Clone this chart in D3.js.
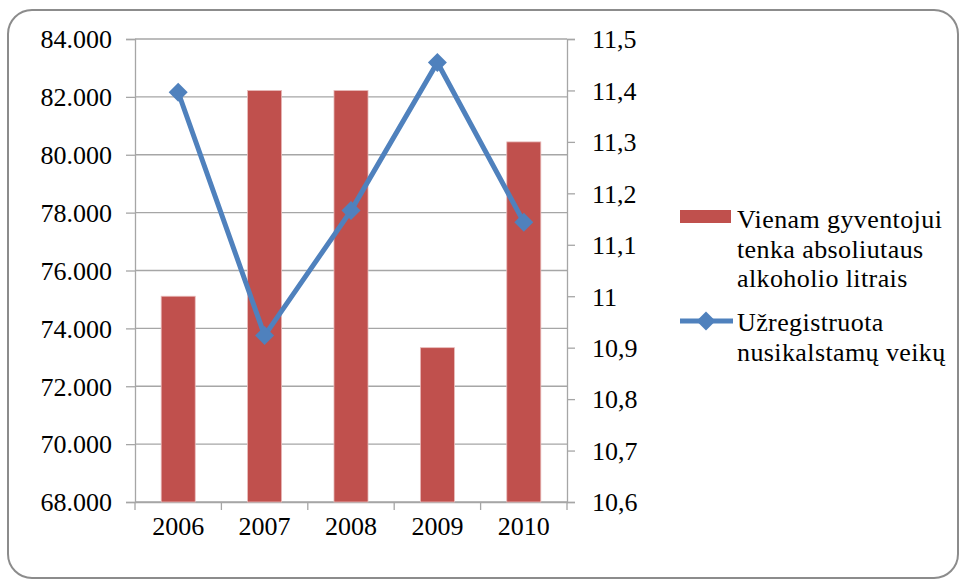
<!DOCTYPE html>
<html>
<head>
<meta charset="utf-8">
<script src="https://cdn.jsdelivr.net/npm/d3@7/dist/d3.min.js"></script>
<style>
  html, body { margin: 0; padding: 0; background: #fff; }
  svg { display: block; }
  svg text { font-family: 'Liberation Serif', 'Tinos', 'Times New Roman', 'DejaVu Serif', serif !important; fill: #000; }
</style>
</head>
<body>
<svg id="chart" width="964" height="582"></svg>
<script>
// ---- Data ----
const years = ["2006", "2007", "2008", "2009", "2010"];
const alcoholLitres = [11.0, 11.4, 11.4, 10.9, 11.3];          // bars, right axis
const registeredCrimes = [82160, 73750, 78070, 83190, 77670];   // line, left axis
const leftTicks = [68000, 70000, 72000, 74000, 76000, 78000, 80000, 82000, 84000];
const rightTicks = [10.6, 10.7, 10.8, 10.9, 11.0, 11.1, 11.2, 11.3, 11.4, 11.5];
const barLegend = ["Vienam gyventojui", "tenka absoliutaus", "alkoholio litrais"];
const lineLegend = ["Užregistruota", "nusikalstamų veikų"];

const FONT = "'Liberation Serif', 'Tinos', 'Times New Roman', 'DejaVu Serif', serif";
const locale = d3.formatLocale({ decimal: ",", thousands: ".", grouping: [3], currency: ["", ""] });
const fmtLeft = locale.format(",.0f");
const fmtRight = locale.format(".1~f");

const svg = d3.select("#chart").attr("font-family", FONT);
const L = 135, R = 567, T = 39, B = 502;
const barColor = "#C0504D", lineColor = "#4F81BD", gridColor = "#A6A6A6";

// outer rounded border
svg.append("rect").attr("x", 8).attr("y", 10).attr("width", 950).attr("height", 568)
  .attr("rx", 24).attr("ry", 24).attr("fill", "#fff").attr("stroke", "#8c8c8c").attr("stroke-width", 2);

const x = d3.scaleBand().domain(years).range([L, R]).paddingInner(0.606).paddingOuter(0.303);
const xCat = d3.scaleBand().domain(years).range([L, R]).padding(0);
const yL = d3.scaleLinear().domain([68000, 84000]).range([B, T]);
const yR = d3.scaleLinear().domain([10.6, 11.5]).range([B, T]);

// gridlines
svg.append("g").selectAll("line").data(leftTicks).join("line")
  .attr("x1", L).attr("x2", R).attr("y1", d => yL(d)).attr("y2", d => yL(d))
  .attr("stroke", gridColor).attr("stroke-width", 1.3);

// axes
const gL = svg.append("g").attr("transform", `translate(${L},0)`)
  .call(d3.axisLeft(yL).tickValues(leftTicks).tickFormat(fmtLeft).tickSize(9).tickPadding(14));
const gR = svg.append("g").attr("transform", `translate(${R},0)`)
  .call(d3.axisRight(yR).tickValues(rightTicks).tickFormat(fmtRight).tickSize(8).tickPadding(17));
const gB = svg.append("g").attr("transform", `translate(0,${B})`)
  .call(d3.axisBottom(xCat).tickSize(0).tickPadding(30));
svg.append("g").selectAll("line").data(years.concat(["end"])).join("line")
  .attr("x1", (d, i) => i < years.length ? xCat(d) : R)
  .attr("x2", (d, i) => i < years.length ? xCat(d) : R)
  .attr("y1", B).attr("y2", B + 8).attr("stroke", gridColor).attr("stroke-width", 1.3);

[gL, gR, gB].forEach(g => {
  g.attr("font-family", FONT).attr("font-size", 26);
  g.selectAll(".domain").attr("stroke", gridColor).attr("stroke-width", 1.3);
  g.selectAll(".tick line").attr("stroke", gridColor).attr("stroke-width", 1.3);
  g.selectAll("text").attr("font-size", 26).attr("font-family", FONT).attr("fill", "#000");
});
gL.selectAll(".tick text").attr("dy", "0.34em");
gR.selectAll(".tick text").attr("dy", "0.34em");
gB.selectAll(".tick text").attr("dy", "0.1em");

// bars
svg.append("g").selectAll("rect").data(years).join("rect")
  .attr("x", d => x(d)).attr("width", x.bandwidth())
  .attr("y", (d, i) => yR(alcoholLitres[i]))
  .attr("height", (d, i) => B - yR(alcoholLitres[i]))
  .attr("fill", barColor).attr("stroke", "#E8BCBB").attr("stroke-width", 0.8);

// line
const cx = d => xCat(d) + xCat.bandwidth() / 2;
const line = d3.line().x(d => cx(d)).y((d, i) => yL(registeredCrimes[i]));
svg.append("path").datum(years).attr("d", line)
  .attr("fill", "none").attr("stroke", lineColor).attr("stroke-width", 5).attr("stroke-linejoin", "miter");
const diamond = d3.symbol().type(d3.symbolSquare).size(180);
svg.append("g").selectAll("path").data(years).join("path")
  .attr("d", diamond)
  .attr("transform", (d, i) => `translate(${cx(d)},${yL(registeredCrimes[i])}) rotate(45)`)
  .attr("fill", lineColor);

// legend
const lg = svg.append("g").attr("font-family", FONT);
lg.append("rect").attr("x", 680).attr("y", 210).attr("width", 51).attr("height", 13).attr("fill", barColor);
lg.selectAll("text.b").data(barLegend).join("text").attr("class", "b")
  .attr("x", 737).attr("y", (d, i) => 228 + i * 29.5).attr("font-size", 26)
  .attr("letter-spacing", 0.4).attr("font-family", FONT).text(d => d);
lg.append("line").attr("x1", 680).attr("x2", 733).attr("y1", 321).attr("y2", 321)
  .attr("stroke", lineColor).attr("stroke-width", 5);
lg.append("path").attr("d", diamond).attr("transform", "translate(706,321) rotate(45)").attr("fill", lineColor);
lg.selectAll("text.l").data(lineLegend).join("text").attr("class", "l")
  .attr("x", 737).attr("y", (d, i) => 331 + i * 29.5).attr("font-size", 26)
  .attr("letter-spacing", 0.4).attr("font-family", FONT).text(d => d);
</script>
</body>
</html>
